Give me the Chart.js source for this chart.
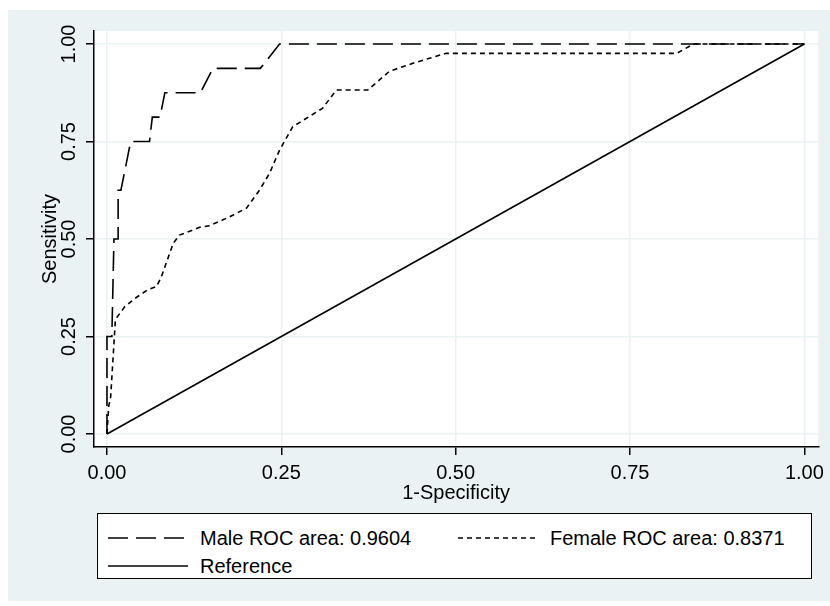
<!DOCTYPE html>
<html>
<head>
<meta charset="utf-8">
<script src="https://cdn.jsdelivr.net/npm/chart.js@4.4.1/dist/chart.umd.min.js"></script>
<style>
body{margin:0;background:#fff;}
#wrap{position:relative;width:830px;height:606px;}
#legend{position:absolute;left:97px;top:513px;width:713px;height:64px;background:#fff;border:1px solid #000;
  font-family:"Liberation Sans",Arial,sans-serif;font-size:20px;color:#000;}
.item{position:absolute;display:flex;align-items:center;height:24px;white-space:nowrap;}
.item svg{margin-right:12px;}
</style>
</head>
<body>
<div id="wrap">
  <canvas id="roc"></canvas>
  <div id="legend"></div>
</div>
<script>
// ROC points (1-specificity, sensitivity)
const maleFpr  = [0, 0, 0.007, 0.01, 0.016, 0.016, 0.02, 0.034, 0.061, 0.065, 0.076, 0.083, 0.134, 0.152, 0.22, 0.2475, 1];
const maleSens = [0, 0.25, 0.25, 0.5, 0.5, 0.625, 0.625, 0.75, 0.75, 0.8125, 0.8125, 0.875, 0.875, 0.9375, 0.9375, 1, 1];

const femaleFpr  = [0, 0.0024, 0.0053, 0.012, 0.0147, 0.0253, 0.042, 0.0587, 0.071, 0.078, 0.095, 0.104, 0.133, 0.147, 0.176, 0.2, 0.219, 0.233, 0.2475, 0.2665, 0.309, 0.329, 0.374, 0.405, 0.443, 0.486, 0.817, 0.841, 1];
const femaleSens = [0, 0.07, 0.095, 0.29, 0.30, 0.326, 0.35, 0.37, 0.378, 0.403, 0.489, 0.51, 0.53, 0.534, 0.557, 0.579, 0.626, 0.668, 0.728, 0.788, 0.835, 0.882, 0.882, 0.93, 0.953, 0.976, 0.976, 1, 1];

const refFpr  = [0, 1];
const refSens = [0, 1];

const seriesLabels = ['Male ROC area: 0.9604', 'Female ROC area: 0.8371', 'Reference'];
const xTicks = [0, 0.25, 0.5, 0.75, 1];
const yTicks = [0, 0.25, 0.5, 0.75, 1];

// estilos
const bgColor = 'rgb(234,242,243)';
const maleDash = [20, 8];
const femaleDash = [5, 4];
const lineW = 1.6;
const font = {family:'"Liberation Sans", Arial, sans-serif', size:20, lineHeight:1.2};

const toPts = (xs, ys) => xs.map((x, i) => ({x, y: ys[i]}));

// fondo gris de Stata + area blanca
const bgPlugin = {
    id:'stataBg',
    beforeDraw(chart){
        const c = chart.ctx, a = chart.chartArea;
        c.save();
        c.fillStyle = '#fff'; c.fillRect(0, 0, chart.width, chart.height);
        c.fillStyle = bgColor; c.fillRect(8, 10, 822, 591);
        c.fillStyle = '#fff'; c.fillRect(a.left, a.top, a.right - a.left, a.bottom - a.top);
        c.restore();
    }
};

function lineSet(label, pts, dash){
    return {label, data:pts, showLine:true, borderColor:'#000', borderWidth:lineW,
        borderDash:dash, pointRadius:0, fill:false, tension:0};
}

const axisGrid = {color:bgColor, lineWidth:1.5, tickColor:'#000', tickWidth:1.5, tickLength:8};
const axisBorder = {color:'#000', width:1.5};

new Chart(document.getElementById('roc'), {
    type:'scatter',
    data:{datasets:[
        lineSet(seriesLabels[0], toPts(maleFpr, maleSens), maleDash),
        lineSet(seriesLabels[1], toPts(femaleFpr, femaleSens), femaleDash),
        lineSet(seriesLabels[2], toPts(refFpr, refSens), [])
    ]},
    options:{
        responsive:true, maintainAspectRatio:false, animation:false,
        layout:{padding:{left:8, top:31, right:10, bottom:99}},
        plugins:{legend:{display:false}, tooltip:{enabled:false}},
        scales:{
            x:{
                type:'linear', min:-0.0186, max:1.02,
                afterBuildTicks: s => { s.ticks = xTicks.map(v => ({value:v})); },
                afterFit: s => { s.height = 60; },
                ticks:{callback: v => v.toFixed(2), font, color:'#000', padding:6, maxRotation:0, autoSkip:false},
                grid:axisGrid, border:axisBorder,
                title:{display:true, text:'1-Specificity', font, color:'#000', padding:{top:0, bottom:2}}
            },
            y:{
                type:'linear', min:-0.0333, max:1.0333,
                afterBuildTicks: s => { s.ticks = yTicks.map(v => ({value:v})); },
                afterFit: s => { s.width = 86; },
                ticks:{callback: v => v.toFixed(2), font, color:'#000', padding:-3,
                    minRotation:90, maxRotation:90, crossAlign:'center', autoSkip:false},
                grid:axisGrid, border:axisBorder,
                title:{display:true, text:'Sensitivity', font, color:'#000', padding:{top:30, bottom:0}}
            }
        }
    },
    plugins:[bgPlugin]
});

// leyenda en un recuadro, como en Stata
const legendRows = [
    {label:seriesLabels[0], dash:maleDash, left:10, top:12},
    {label:seriesLabels[1], dash:femaleDash, left:360, top:12},
    {label:seriesLabels[2], dash:[], left:10, top:40}
];
const leg = document.getElementById('legend');
legendRows.forEach(r=>{
    const div = document.createElement('div');
    div.className = 'item';
    div.style.left = r.left + 'px';
    div.style.top = r.top + 'px';
    div.innerHTML = `<svg width="80" height="4"><line x1="0" y1="2" x2="80" y2="2" stroke="#000" stroke-width="${lineW}" stroke-dasharray="${r.dash.join(' ')}"/></svg><span>${r.label}</span>`;
    leg.appendChild(div);
});
</script>
</body>
</html>
